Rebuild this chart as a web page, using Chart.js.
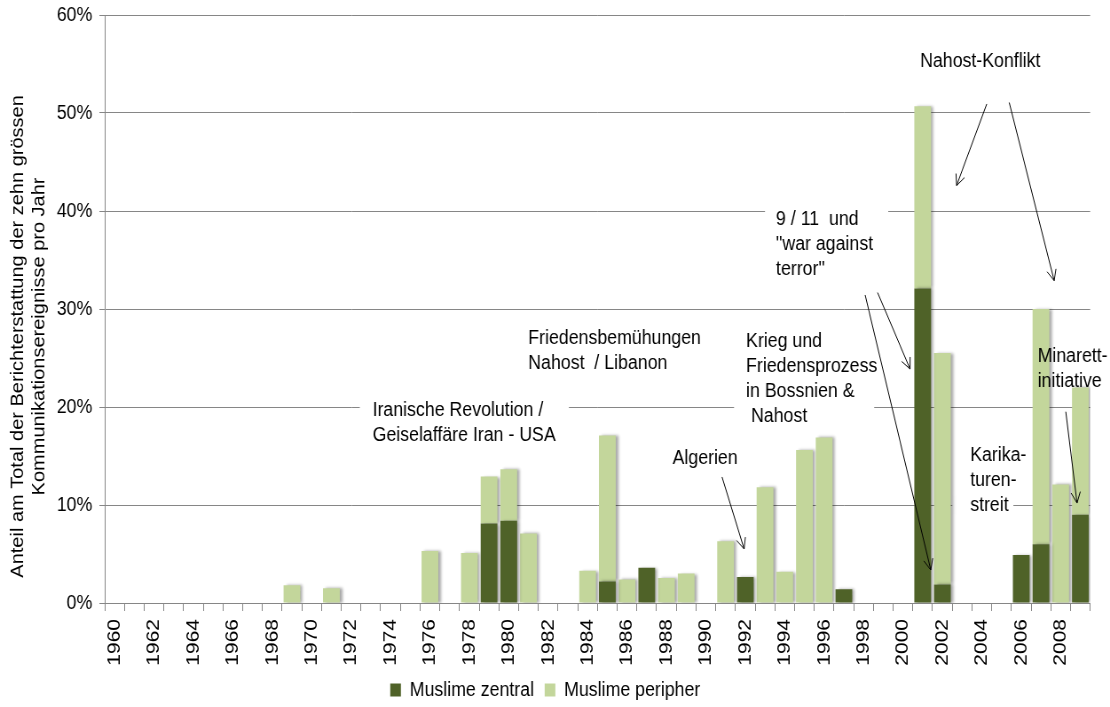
<!DOCTYPE html>
<html>
<head>
<meta charset="utf-8">
<script src="https://cdn.jsdelivr.net/npm/chart.js@4.4.1/dist/chart.umd.min.js"></script>
<style>
  html, body { margin: 0; padding: 0; background: #fff; overflow: hidden; }
  #wrap { width: 1110px; height: 707px; overflow: hidden; }
  #myChart { display: block; transform: scaleX(0.8873); transform-origin: 0 0; }
</style>
</head>
<body>
<div id="wrap"><canvas id="myChart" width="1251" height="707"></canvas></div>
<script>
const years = [
    1960, 1961, 1962, 1963, 1964, 1965, 1966, 1967, 1968, 1969,
    1970, 1971, 1972, 1973, 1974, 1975, 1976, 1977, 1978, 1979,
    1980, 1981, 1982, 1983, 1984, 1985, 1986, 1987, 1988, 1989,
    1990, 1991, 1992, 1993, 1994, 1995, 1996, 1997, 1998, 1999,
    2000, 2001, 2002, 2003, 2004, 2005, 2006, 2007, 2008, 2009
];
const tickYears = [1960, 1962, 1964, 1966, 1968, 1970, 1972, 1974, 1976, 1978,
    1980, 1982, 1984, 1986, 1988, 1990, 1992, 1994, 1996, 1998,
    2000, 2002, 2004, 2006, 2008];

// Anteil in %
const zentral = [
    0, 0, 0, 0, 0, 0, 0, 0, 0, 0,
    0, 0, 0, 0, 0, 0, 0, 0, 0, 8.1,
    8.4, 0, 0, 0, 0, 2.2, 0, 3.6, 0, 0,
    0, 0, 2.65, 0, 0, 0, 0, 1.4, 0, 0,
    0, 32.1, 1.9, 0, 0, 0, 4.9, 6.0, 0, 9.0
];
const peripher = [
    0, 0, 0, 0, 0, 0, 0, 0, 0, 1.8,
    0, 1.5, 0, 0, 0, 0, 5.3, 0, 5.1, 4.8,
    5.25, 7.1, 0, 0, 3.3, 14.9, 2.4, 0, 2.55, 3.0,
    0, 6.3, 0, 11.8, 3.2, 15.6, 16.9, 0, 0, 0,
    0, 18.6, 23.6, 0, 0, 0, 0, 24.0, 12.1, 13.0
];
const yTicks = [0, 10, 20, 30, 40, 50, 60];

const yTitle = ['Anteil am Total der Berichterstattung der zehn grössen',
    'Kommunikationsereignisse pro Jahr'];

// Beschriftungen (x = Jahr-Index, y = %)
const notes = [
    { x: 13.09, y: 19.69, lines: ['Iranische Revolution /', 'Geiselaffäre Iran - USA'] },
    { x: 20.99, y: 27.04, lines: ['Friedensbemühungen', 'Nahost  / Libanon'] },
    { x: 33.56, y: 39.15, lines: ['9 / 11  und', '"war against', 'terror"'] },
    { x: 32.04, y: 26.66, lines: ['Krieg und', 'Friedensprozess', 'in Bossnien &', ' Nahost'] },
    { x: 28.31, y: 14.77, lines: ['Algerien'] },
    { x: 40.87, y: 55.23, lines: ['Nahost-Konflikt'] },
    { x: 43.41, y: 15.10, lines: ['Karika-', 'turen-', 'streit'] },
    { x: 46.83, y: 25.13, lines: ['Minarett-', 'initiative'] }
];
// weisse Flächen hinter Text (Gitterlinien unterbrochen)
const masks = [
    { x0: 12.44, x1: 23.05, y0: 19, y1: 21 },
    { x0: 33.0, x1: 39.25, y0: 39, y1: 41 },
    { x0: 31.43, x1: 38.54, y0: 19, y1: 21 },
    { x0: 42.5, x1: 45.6, y0: 9, y1: 11 }
];
const arrows = [
    [30.82, 12.86, 31.94, 5.51],
    [38.71, 31.68, 40.36, 23.88],
    [38.08, 31.43, 41.41, 3.37],
    [44.25, 50.92, 42.72, 42.6],
    [45.39, 51.07, 47.67, 32.89],
    [48.26, 19.52, 48.83, 10.2]
];

const FONT = '"Liberation Sans", Arial, sans-serif';
const gridColor = '#868686';

const notesPlugin = {
    id: 'notes',
    afterUpdate(chart) {
        // Legende etwas tiefer
        const lg = chart.legend;
        lg.top += 3;
        lg.bottom += 3;
        (lg.legendHitBoxes || []).forEach(h => { h.top += 3; });
    },
    beforeDatasetsDraw(chart) {
        const ctx = chart.ctx;
        const xs = chart.scales.x, ys = chart.scales.y;
        ctx.save();
        ctx.fillStyle = '#fff';
        masks.forEach(m => {
            const x0 = xs.getPixelForValue(m.x0), x1 = xs.getPixelForValue(m.x1);
            const y0 = ys.getPixelForValue(m.y1), y1 = ys.getPixelForValue(m.y0);
            ctx.fillRect(x0, y0, x1 - x0, y1 - y0);
        });
        ctx.restore();
        // Schatten der Balken
        ctx.save();
        ctx.shadowColor = 'rgba(0,0,0,0.35)';
        ctx.shadowBlur = 3;
        ctx.shadowOffsetX = 3;
        ctx.shadowOffsetY = 0;
    },
    afterDatasetsDraw(chart) {
        const ctx = chart.ctx;
        ctx.restore();
        const xs = chart.scales.x, ys = chart.scales.y;
        ctx.save();
        ctx.fillStyle = '#000';
        ctx.strokeStyle = '#000';
        ctx.lineWidth = 1;
        ctx.font = '20px ' + FONT;
        ctx.textAlign = 'left';
        ctx.textBaseline = 'middle';
        notes.forEach(n => {
            const x = xs.getPixelForValue(n.x);
            const y = ys.getPixelForValue(n.y);
            n.lines.forEach((t, i) => ctx.fillText(t, x, y + i * 25));
        });
        arrows.forEach(a => {
            const x1 = xs.getPixelForValue(a[0]), y1 = ys.getPixelForValue(a[1]);
            const x2 = xs.getPixelForValue(a[2]), y2 = ys.getPixelForValue(a[3]);
            ctx.beginPath();
            ctx.moveTo(x1, y1);
            ctx.lineTo(x2, y2);
            const ang = Math.atan2(y2 - y1, x2 - x1);
            const len = 12, spread = 0.45;
            ctx.moveTo(x2 - len * Math.cos(ang - spread), y2 - len * Math.sin(ang - spread));
            ctx.lineTo(x2, y2);
            ctx.lineTo(x2 - len * Math.cos(ang + spread), y2 - len * Math.sin(ang + spread));
            ctx.stroke();
        });
        // Achsentitel
        const cy = ys.getPixelForValue(27.2);
        ctx.textAlign = 'center';
        [20.5, 44].forEach((cx, i) => {
            ctx.save();
            ctx.translate(cx, cy);
            ctx.rotate(-Math.PI / 2);
            ctx.fillText(yTitle[i], 0, 0);
            ctx.restore();
        });
        ctx.restore();
    }
};

const chartEl = document.getElementById('myChart');
Chart.defaults.font.family = FONT;
Chart.defaults.font.size = 20;
Chart.defaults.color = '#000';

const myChart = new Chart(chartEl, {
    type: 'bar',
    data: {
        labels: years,
        datasets: [{
            label: 'Muslime zentral',
            data: zentral,
            backgroundColor: '#4F6228',
            borderWidth: 0
        }, {
            label: 'Muslime peripher',
            data: peripher,
            backgroundColor: '#C3D69B',
            borderWidth: 0
        }]
    },
    options: {
        responsive: false,
        animation: false,
        devicePixelRatio: 1,
        layout: {
            padding: { top: 0, right: 22, bottom: 0, left: 0 }
        },
        datasets: {
            bar: { barPercentage: 0.85, categoryPercentage: 1 }
        },
        scales: {
            x: {
                stacked: true,
                grid: {
                    offset: true,
                    drawOnChartArea: false,
                    tickLength: 8,
                    color: gridColor
                },
                border: { color: gridColor },
                ticks: {
                    autoSkip: false,
                    minRotation: 90,
                    maxRotation: 90,
                    padding: 8,
                    font: { size: 21 },
                    callback: (v, i) => tickYears.includes(years[i]) ? String(years[i]) : ''
                },
                afterFit: s => { s.height = 62; }
            },
            y: {
                stacked: true,
                min: 0,
                max: 60,
                afterBuildTicks: s => { s.ticks = yTicks.map(v => ({ value: v })); },
                grid: {
                    color: gridColor,
                    tickLength: 6
                },
                border: { color: gridColor },
                ticks: {
                    padding: 8,
                    font: { size: 20 },
                    callback: v => v + '%'
                },
                afterFit: s => { s.width = 118; s.paddingTop = 15; }
            }
        },
        plugins: {
            legend: {
                position: 'bottom',
                labels: {
                    boxWidth: 12,
                    boxHeight: 13,
                    padding: 12,
                    font: { size: 20 }
                }
            },
            tooltip: { enabled: false }
        }
    },
    plugins: [notesPlugin]
});
</script>
</body>
</html>
